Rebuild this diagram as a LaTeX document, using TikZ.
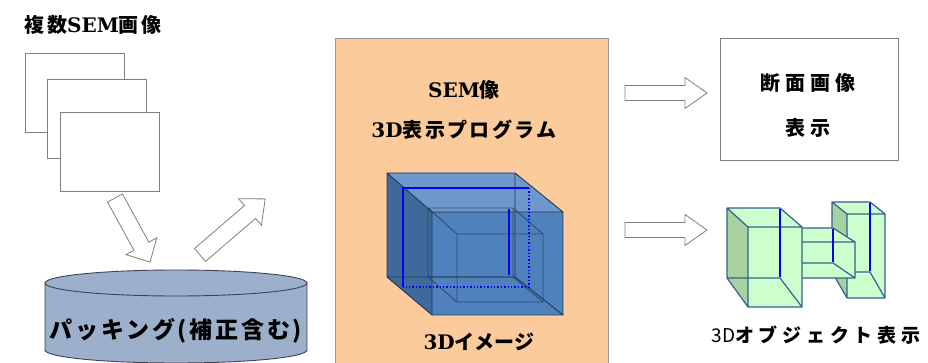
\documentclass[tikz,border=0pt]{standalone}
\usepackage{fontspec}
\setmainfont{Noto Sans CJK JP}
\newfontfamily\jpsp{Noto Sans CJK JP}[LetterSpace=12]
\newfontfamily\jpwide{Noto Sans CJK JP}[LetterSpace=25]
\newfontfamily\serifbf{DejaVu Serif}
\usetikzlibrary{positioning}

\definecolor{peach}{HTML}{FBCB9B}
\definecolor{dbcyl}{HTML}{9CAFCB}
\definecolor{cylline}{HTML}{3C4656}
\definecolor{frameline}{HTML}{7F7F7F}
\definecolor{cubefront}{HTML}{4F81BD}
\definecolor{cubetop}{HTML}{6E98CB}
\definecolor{cubeleft}{HTML}{40699B}
\definecolor{cubeline}{HTML}{24364E}
\definecolor{greenface}{HTML}{CCFFCC}
\definecolor{greenside}{HTML}{A8D1A0}
\definecolor{greenline}{HTML}{365F91}

\begin{document}
\begin{tikzpicture}[x=1pt, y=-1pt,
  sheet/.style={draw=frameline, fill=white, minimum width=99pt, minimum height=79pt, anchor=north west, inner sep=0pt},
  lbl/.style={inner sep=0pt, font=\bfseries\fontsize{20}{22}\selectfont},
  blockarrow/.style={draw=frameline, fill=white, line width=0.8pt},
  cubeedge/.style={draw=cubeline, line width=0.9pt},
  secline/.style={draw=blue, line width=1.6pt},
  greenedge/.style={draw=greenline, line width=1.2pt, line join=round}]

\useasboundingbox (0,0) rectangle (928,363);

\node [lbl] (title) at (93,25) {\jpsp 複数{\serifbf SEM}画像};

\node [sheet] (sheetA) at (25,53) {};
\node [sheet] (sheetB) at (47,79) {};
\node [sheet] (sheetC) at (60,112) {};

\draw [blockarrow, shift={(115,198)}, rotate=-61.3] (0pt,-8.5pt) -- ++(55pt,0pt) -- ++(0pt,-9pt) -- ++(18pt,17.5pt)
                      -- ++(-18pt,17.5pt) -- ++(0pt,-9pt) -- ++(-55pt,0pt) -- cycle;
\draw [blockarrow, shift={(200,255)}, rotate=40.7] (0pt,-8.5pt) -- ++(66pt,0pt) -- ++(0pt,-9pt) -- ++(20pt,17.5pt)
                      -- ++(-20pt,17.5pt) -- ++(0pt,-9pt) -- ++(-66pt,0pt) -- cycle;

% database
\fill [dbcyl] (45,283) -- (45,350) arc [start angle=180, end angle=360, x radius=131pt, y radius=13pt]
      -- (307,283) arc [start angle=0, end angle=180, x radius=131pt, y radius=13pt] -- cycle;
\draw [cylline, line width=0.9pt] (45,283) -- (45,350) arc [start angle=180, end angle=360, x radius=131pt, y radius=13pt] -- (307,283);
\draw [cylline, line width=0.9pt] (176,283) ellipse [x radius=131pt, y radius=13pt];
\node [lbl, font=\bfseries\fontsize{23}{25}\selectfont] (packing) at (176,331) {\jpsp パッキング(補正含む)};

% program panel
\node [draw=frameline!80, fill=peach, anchor=north west, minimum width=273pt, minimum height=340pt] (program) at (335,38) {};
\node [lbl] (semimg) at (464,90) {\jpsp{\serifbf SEM}像};
\node [lbl] (progname) at (464,130) {\jpsp{\serifbf 3D}表示プログラム};

\fill [cubeleft] (387,173) -- (432,212) -- (432,315) -- (387,277) -- cycle;
\fill [cubetop] (387,173) -- (515,173) -- (563,212) -- (432,212) -- cycle;
\fill [cubefront] (432,212) rectangle (563,315);
\draw [cubeedge] (515,173) -- (515,277) -- (387,277) (515,277) -- (563,315);
\draw [cubeedge, draw opacity=0.7] (428,208) rectangle (513,277) (457,234) rectangle (543,302)
      (428,208) -- (457,234) (513,208) -- (543,234) (428,277) -- (457,302) (513,277) -- (543,302);
\draw [cubeedge] (387,173) -- (515,173) -- (563,212) -- (563,315) -- (432,315) -- (387,277) -- cycle
      (432,212) -- (563,212) (432,212) -- (432,315) (387,173) -- (432,212);
\draw [secline] (403,287) -- (403,188) -- (529,188);
\draw [secline, line width=1.4pt, dotted] (529,188) -- (529,287) -- (403,287);
\draw [secline] (509,209) -- (509,275);

\node [lbl] (imgcap) at (479,342) {{\serifbf 3D}イメージ};

% outputs
\draw [blockarrow, shift={(625,93)}] (0pt,-7.5pt) -- ++(60pt,0pt) -- ++(0pt,-8pt) -- ++(22pt,15.5pt)
                      -- ++(-22pt,15.5pt) -- ++(0pt,-8pt) -- ++(-60pt,0pt) -- cycle;
\draw [blockarrow, shift={(625,230)}] (0pt,-7.5pt) -- ++(60pt,0pt) -- ++(0pt,-8pt) -- ++(22pt,15.5pt)
                      -- ++(-22pt,15.5pt) -- ++(0pt,-8pt) -- ++(-60pt,0pt) -- cycle;

\node [draw=frameline, line width=0.9pt, fill=white, anchor=north west, minimum width=178pt, minimum height=122pt] (section) at (720,38) {};
\node [lbl, font=\bfseries\fontsize{20}{45}\selectfont, align=center] (sectxt) at (808,105) {\jpwide 断面画像\\\jpwide 表示};

% 3D object
\fill [greenside] (832,202) -- (847,214) -- (847,298) -- (832,272) -- cycle;
\fill [greenface] (832,202) -- (870,202) -- (885,214) -- (847,214) -- cycle (847,214) rectangle (885,298);
\draw [greenedge] (870,272) -- (832,272) (870,272) -- (885,298);
\draw [greenedge] (832,202) -- (870,202) -- (885,214) -- (885,298) -- (847,298) -- (832,272) -- cycle
      (847,214) -- (885,214) (847,214) -- (847,298) (832,202) -- (847,214);
\draw [draw=blue, line width=1.3pt] (870,203) -- (870,271);

\fill [greenface] (802,228) -- (833,228) -- (855,242) -- (802,242) -- cycle (802,242) rectangle (855,278);
\draw [greenedge] (802,263) -- (833,263) -- (855,278);
\draw [greenedge] (802,228) -- (833,228) -- (855,242) -- (855,278) -- (802,278) (802,242) -- (855,242);
\draw [draw=blue, line width=1.3pt] (833,229) -- (833,262);

\fill [greenside] (727,208) -- (748,227) -- (748,307) -- (727,278) -- cycle;
\fill [greenface] (727,208) -- (780,208) -- (802,227) -- (748,227) -- cycle (748,227) rectangle (802,307);
\draw [greenedge] (727,278) -- (780,278) -- (802,307);
\draw [greenedge] (727,208) -- (780,208) -- (802,227) -- (802,307) -- (748,307) -- (727,278) -- cycle
      (748,227) -- (802,227) (748,227) -- (748,307) (727,208) -- (748,227);
\draw [draw=blue, line width=1.3pt] (780,209) -- (780,277);

\node [lbl, font=\bfseries\fontsize{19}{21}\selectfont] (objcap) at (816,335) {\jpwide{\mdseries\fontspec{Noto Sans CJK JP}3D}オブジェクト表示};

\end{tikzpicture}
\end{document}
